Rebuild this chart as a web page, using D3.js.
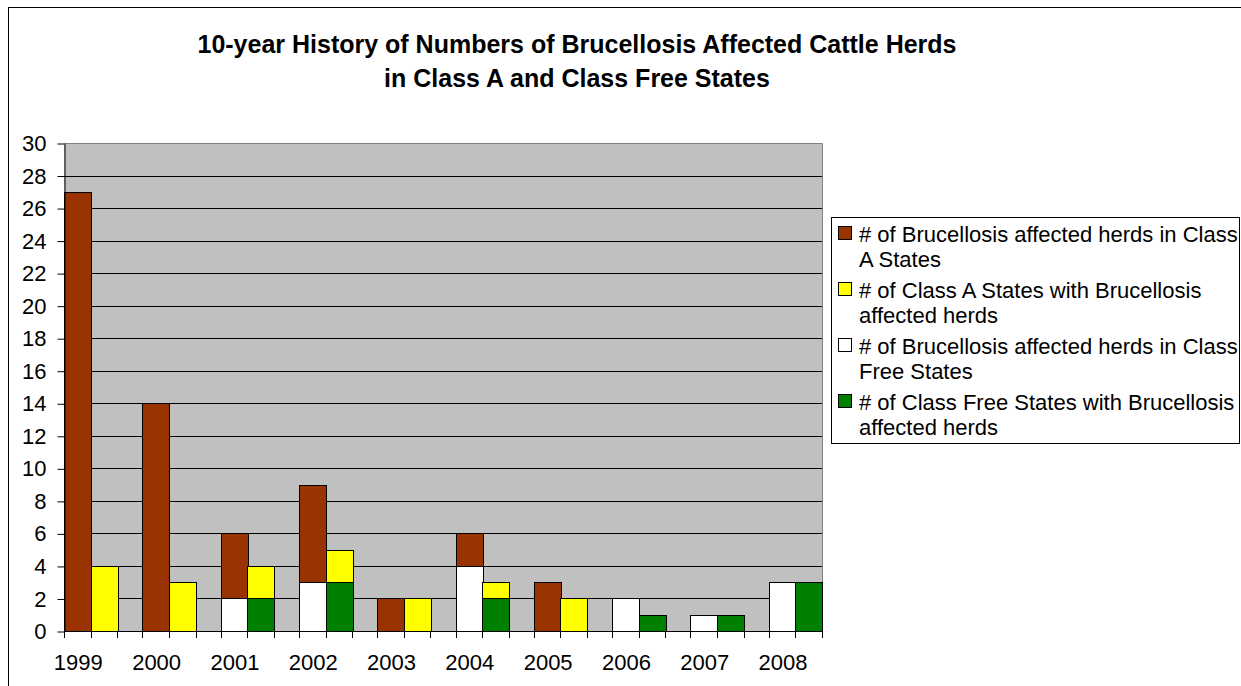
<!DOCTYPE html>
<html>
<head>
<meta charset="utf-8">
<script src="https://cdn.jsdelivr.net/npm/d3@7"></script>
<style>
  body { margin: 0; background: #fff; }
  text { font-family: "Liberation Sans", Arial, sans-serif; }
</style>
</head>
<body>
<div id="chart"></div>
<script>

// data
var years = ['1999','2000','2001','2002','2003','2004','2005','2006','2007','2008'];
var herdsClassA     = [27, 14, 4, 6, 2, 2, 3, 0, 0, 0];
var statesClassA    = [ 4,  3, 2, 2, 2, 1, 2, 0, 0, 0];
var herdsClassFree  = [ 0,  0, 2, 3, 0, 4, 0, 2, 1, 3];
var statesClassFree = [ 0,  0, 2, 3, 0, 2, 0, 1, 1, 3];
var yTicks = [0,2,4,6,8,10,12,14,16,18,20,22,24,26,28,30];

var legendLines = [
    ['# of Brucellosis affected herds in Class', 'A States'],
    ['# of Class A States with Brucellosis', 'affected herds'],
    ['# of Brucellosis affected herds in Class', 'Free States'],
    ['# of Class Free States with Brucellosis', 'affected herds']
];

var colorDic = {
    'herdsA': '#993300',
    'statesA': '#FFFF00',
    'herdsFree': '#FFFFFF',
    'statesFree': '#008000'
};

var W = 1241, H = 686;
var plotL = 64, plotR = 822, plotT = 143, plotB = 631;

var svg = d3.select('#chart').append('svg')
    .attr('width', W).attr('height', H);

// outer chart frame (runs off the right and bottom)
svg.append('rect')
    .attr('x', 8.5).attr('y', 7.5)
    .attr('width', 1300).attr('height', 800)
    .attr('fill', '#fff').attr('stroke', '#000');

// title
svg.append('text')
    .attr('x', 577).attr('y', 53)
    .attr('text-anchor', 'middle')
    .style('font-weight', 'bold').style('font-size', '25px')
    .text('10-year History of Numbers of Brucellosis Affected Cattle Herds');
svg.append('text')
    .attr('x', 577).attr('y', 87)
    .attr('text-anchor', 'middle')
    .style('font-weight', 'bold').style('font-size', '25px')
    .text('in Class A and Class Free States');

var x = d3.scaleBand()
    .domain(years)
    .range([plotL, plotR])
    .paddingInner(0.32)
    .paddingOuter(0);

var xSub = d3.scaleBand()
    .domain(['L', 'R'])
    .range([0, x.bandwidth()]);

var y = d3.scaleLinear()
    .domain([0, 30])
    .range([plotB, plotT]);

// plot area
svg.append('rect')
    .attr('x', plotL).attr('y', plotT)
    .attr('width', plotR - plotL).attr('height', plotB - plotT)
    .attr('fill', '#C0C0C0');

svg.selectAll('.grid')
    .data(yTicks.filter(d => d > 0 && d < 30))
    .enter().append('line')
    .attr('x1', plotL).attr('x2', plotR)
    .attr('y1', d => Math.round(y(d)) + 0.5)
    .attr('y2', d => Math.round(y(d)) + 0.5)
    .attr('stroke', '#000');

// top and right border of plot area
svg.append('path')
    .attr('d', 'M' + plotL + ',' + (plotT + 0.5) + 'H' + (plotR + 0.5) + 'V' + plotB)
    .attr('fill', 'none').attr('stroke', '#808080');

// build stacked rows
var table = years.map(function(yr, i) {
    return {
        year: yr,
        herdsA: herdsClassA[i],
        statesA: statesClassA[i],
        herdsFree: herdsClassFree[i],
        statesFree: statesClassFree[i]
    };
});

var leftStack = d3.stack().keys(['herdsFree', 'herdsA'])(table);
var rightStack = d3.stack().keys(['statesFree', 'statesA'])(table);

function drawStack(stack, side) {
    stack.forEach(function(layer) {
        svg.selectAll('.bar-' + layer.key)
            .data(layer.filter(d => d[1] - d[0] > 0))
            .enter().append('rect')
            .attr('x', d => Math.round(x(d.data.year) + xSub(side)) + 0.5)
            .attr('y', d => Math.round(y(d[1])) + 0.5)
            .attr('width', Math.round(xSub.bandwidth()))
            .attr('height', d => Math.round(y(d[0])) - Math.round(y(d[1])))
            .attr('fill', colorDic[layer.key])
            .attr('stroke', '#000')
            .attr('stroke-width', 1);
    });
}
drawStack(leftStack, 'L');
drawStack(rightStack, 'R');

// y axis
var yAxis = svg.append('g')
    .attr('transform', 'translate(' + (plotL + 0.5) + ',0.5)')
    .call(d3.axisLeft(y).tickValues(yTicks).tickSize(7).tickPadding(11).tickSizeOuter(0));
yAxis.select('.domain').attr('stroke', '#000');
yAxis.selectAll('line').attr('stroke', '#000');
yAxis.selectAll('text')
    .style('font-size', '22px')
    .attr('fill', '#000')
    .style('font-family', '"Liberation Sans", Arial, sans-serif');

// x axis baseline and bar-edge ticks
svg.append('line')
    .attr('x1', plotL).attr('x2', plotR)
    .attr('y1', plotB + 0.5).attr('y2', plotB + 0.5)
    .attr('stroke', '#000');

var edges = [];
years.forEach(function(yr) {
    edges.push(x(yr), x(yr) + xSub.bandwidth(), x(yr) + x.bandwidth());
});
svg.selectAll('.xtick')
    .data(edges)
    .enter().append('line')
    .attr('x1', d => Math.round(d) + 0.5).attr('x2', d => Math.round(d) + 0.5)
    .attr('y1', plotB).attr('y2', plotB + 7)
    .attr('stroke', '#000');

svg.selectAll('.xlabel')
    .data(years)
    .enter().append('text')
    .attr('x', d => x(d) + xSub('L') + xSub.bandwidth() / 2 + 1)
    .attr('y', 670)
    .attr('text-anchor', 'middle')
    .style('font-size', '22px')
    .text(d => d);

// legend
var legend = svg.append('g');
legend.append('rect')
    .attr('x', 831.5).attr('y', 217.5)
    .attr('width', 408).attr('height', 226)
    .attr('fill', '#fff').attr('stroke', '#000');

var keys = ['herdsA', 'statesA', 'herdsFree', 'statesFree'];
keys.forEach(function(k, i) {
    var base = 242 + i * 56;
    legend.append('rect')
        .attr('x', 838.5).attr('y', base - 15.5)
        .attr('width', 13).attr('height', 13)
        .attr('fill', colorDic[k]).attr('stroke', '#000');
    legendLines[i].forEach(function(line, j) {
        legend.append('text')
            .attr('x', 859).attr('y', base + j * 25)
            .style('font-size', '22px')
            .text(line);
    });
});

</script>
</body>
</html>
